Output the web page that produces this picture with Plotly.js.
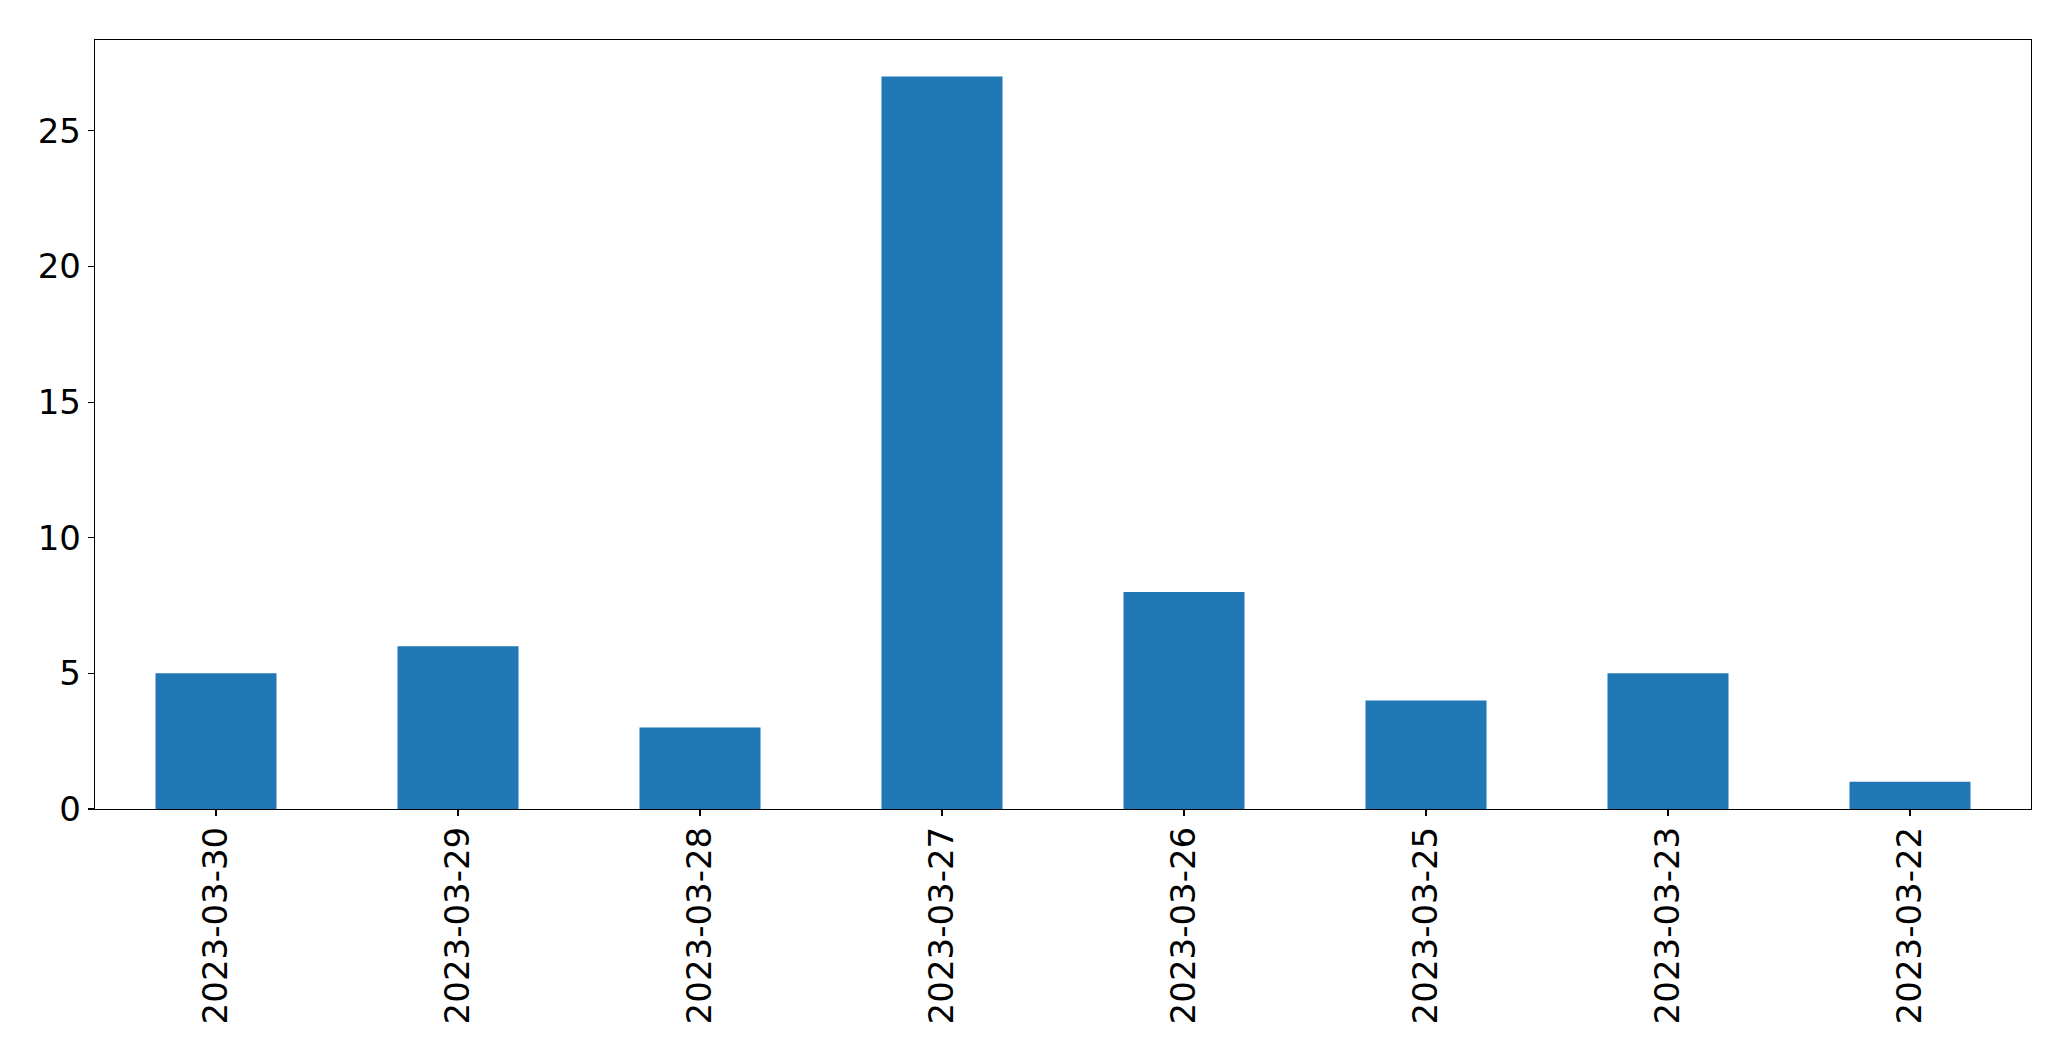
<!DOCTYPE html>
<html>
<head>
<meta charset="utf-8">
<script src="https://cdn.plot.ly/plotly-3.0.1.min.js"></script>
<style>html,body{margin:0;padding:0;background:#fff;}#chart{width:2071px;height:1061px;}</style>
</head>
<body>
<div id="chart"></div>
<script>
const categories = ["2023-03-30","2023-03-29","2023-03-28","2023-03-27","2023-03-26","2023-03-25","2023-03-23","2023-03-22"];
const counts = [5, 6, 3, 27, 8, 4, 5, 1];
const yTicks = [0, 5, 10, 15, 20, 25];

const trace = {
  type: 'bar',
  x: categories,
  y: counts,
  width: 0.5,
  marker: {color: '#1f77b4', line: {width: 0}},
  hoverinfo: 'x+y'
};
const font = {family: 'DejaVu Sans, sans-serif', size: 34, color: '#000'};
const layout = {
  width: 2071, height: 1061,
  margin: {l: 94.5, r: 39.5, t: 39.5, b: 252, pad: 0},
  paper_bgcolor: '#fff', plot_bgcolor: '#fff',
  showlegend: false,
  font: font,
  xaxis: {
    type: 'category',
    range: [-0.5, 7.5],
    tickangle: -90,
    ticks: 'outside', ticklen: 6, tickwidth: 1.2, tickcolor: '#000',
    ticklabelstandoff: -3,
    showline: true, linecolor: '#000', linewidth: 1.2, mirror: true,
    showgrid: false, zeroline: false,
    tickfont: font,
    automargin: false
  },
  yaxis: {
    range: [0, 28.35],
    tickvals: yTicks,
    ticktext: yTicks.map(String),
    ticks: 'outside', ticklen: 6, tickwidth: 1.2, tickcolor: '#000',
    showline: true, linecolor: '#000', linewidth: 1.2, mirror: true,
    showgrid: false, zeroline: false,
    tickfont: font,
    automargin: false
  }
};
Plotly.newPlot('chart', [trace], layout, {displayModeBar: false, staticPlot: true});
</script>
</body>
</html>
